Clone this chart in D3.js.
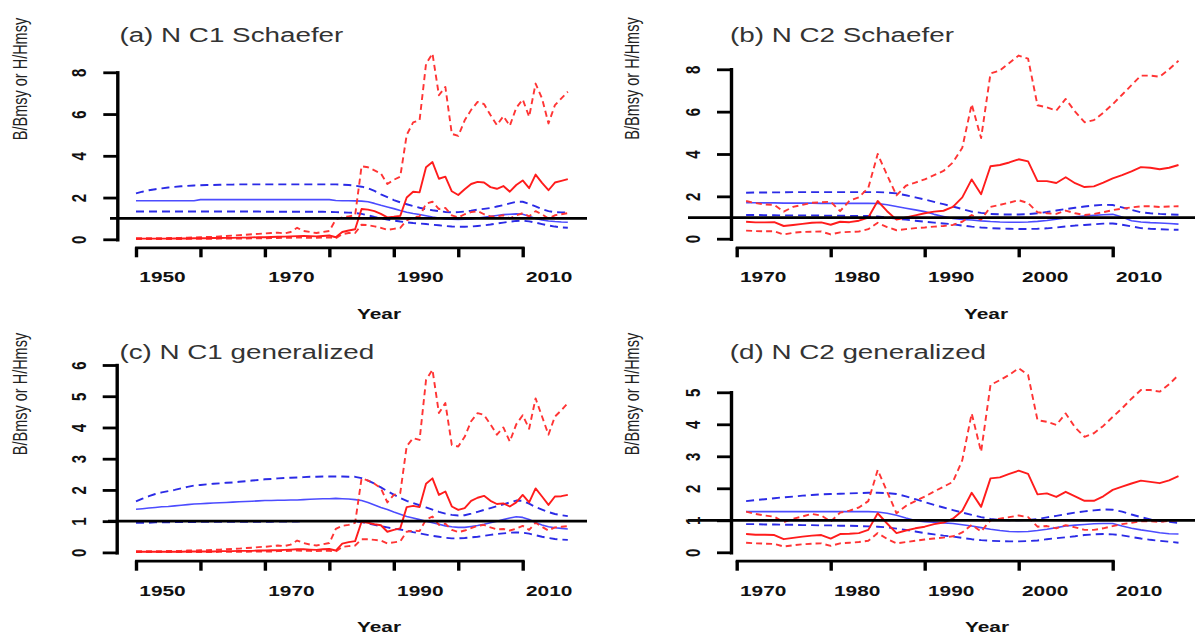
<!DOCTYPE html>
<html><head><meta charset="utf-8">
<script src="https://cdn.jsdelivr.net/npm/d3@7"></script>
<style>body{margin:0;background:#fff}svg{display:block}</style>
</head><body>
<svg id="chart" width="1195" height="636"></svg>
<script>
// ---------- categories / ticks ----------
const yearsC1 = d3.range(1950, 2018);   // 68 years
const yearsC2 = d3.range(1971, 2018);   // 47 years
const xTicksC1 = [1950, 1960, 1970, 1980, 1990, 2000, 2010];
const xLabelsC1 = [1950, 1970, 1990, 2010];
const xTicksC2 = [1970, 1980, 1990, 2000, 2010];
const xLabelsC2 = [1970, 1980, 1990, 2000, 2010];
const yTicksA = [0, 2, 4, 6, 8];
const yTicksB = [0, 2, 4, 6, 8];
const yTicksC = [0, 1, 2, 3, 4, 5, 6];
const yTicksD = [0, 1, 2, 3, 4, 5];
const titles = ["(a) N C1 Schaefer", "(b) N C2 Schaefer", "(c) N C1 generalized", "(d) N C2 generalized"];
const yAxisTitle = "B/Bmsy or H/Hmsy";
const xAxisTitle = "Year";
const refValue = 1;

// ---------- panel (a) ----------
const redSolidA = [0.03,0.03,0.03,0.03,0.03,0.03,0.04,0.04,0.04,0.05,
  0.05,0.05,0.06,0.06,0.07,0.07,0.08,0.08,0.09,0.10,
  0.10,0.11,0.12,0.13,0.14,0.15,0.16,0.15,0.14,0.16,
  0.18,0.10,0.35,0.42,
  0.48,1.45,1.42,1.35,1.22,1.05,1.08,1.12,2.0,2.28,2.25,3.45,3.7,2.9,3.0,2.3,2.12,2.4,2.65,2.75,
  2.72,2.5,2.42,2.55,2.28,2.6,2.82,2.45,3.1,2.7,2.35,2.72,2.8,2.88];
const redUpA = [0.05,0.05,0.05,0.05,0.05,0.06,0.06,0.07,0.08,0.09,
  0.10,0.11,0.12,0.14,0.16,0.18,0.20,0.22,0.24,0.26,
  0.28,0.30,0.32,0.28,0.35,0.55,0.40,0.35,0.30,0.35,
  0.40,0.95,1.05,1.10,1.15,
  3.5,3.45,3.3,3.15,2.65,2.85,3.0,5.0,5.6,5.7,8.4,8.9,6.9,7.3,5.05,4.95,5.7,6.2,6.58,6.48,
  5.95,5.47,5.9,5.44,6.3,6.7,5.87,7.46,6.75,5.55,6.43,6.75,7.07];
const redLoA = [0.01,0.01,0.01,0.01,0.01,0.01,0.01,0.01,0.02,0.02,
  0.02,0.02,0.02,0.03,0.03,0.03,0.04,0.04,0.05,0.05,
  0.05,0.06,0.06,0.07,0.07,0.08,0.08,0.07,0.07,0.08,
  0.09,0.05,0.25,0.3,0.3,
  0.7,0.68,0.62,0.55,0.45,0.5,0.55,0.9,1.05,1.1,1.7,1.8,1.45,1.5,1.15,1.05,1.2,1.3,1.35,1.2,
  1.1,1.1,1.15,1.0,1.15,1.25,1.1,1.35,1.2,1.0,1.15,1.2,1.25];
const blueSolidA = [1.85,1.85,1.85,1.85,1.85,1.85,1.85,1.85,1.85,1.85,
  1.9,1.9,1.9,1.9,1.9,1.9,1.9,1.9,1.9,1.9,
  1.9,1.9,1.9,1.9,1.9,1.9,1.9,1.9,1.9,1.9,
  1.9,1.86,1.85,1.85,1.84,1.83,
  1.8,1.72,1.63,1.55,1.47,1.38,1.3,1.24,1.19,1.13,1.07,1.02,0.98,0.96,0.95,0.96,
  0.98,1.02,1.06,1.1,1.14,1.18,1.2,1.22,1.2,1.1,1.0,0.93,0.88,0.85,0.83,0.82];
const blueUpA = [2.2,2.28,2.35,2.4,2.44,2.48,2.51,2.54,2.56,2.58,
  2.59,2.6,2.6,2.61,2.62,2.62,2.63,2.63,2.63,2.63,
  2.63,2.63,2.63,2.63,2.63,2.63,2.63,2.63,2.63,2.63,
  2.63,2.63,2.62,2.6,2.57,
  2.52,2.45,2.32,2.15,2.02,1.88,1.77,1.68,1.59,1.51,1.44,1.39,1.35,1.31,1.29,1.3,1.33,1.37,1.42,1.46,
  1.5,1.57,1.64,1.72,1.8,1.8,1.7,1.58,1.45,1.35,1.3,1.29,1.29];
const blueLoA = [1.33,1.33,1.33,1.33,1.33,1.33,1.33,1.33,1.33,1.33,
  1.33,1.33,1.33,1.33,1.33,1.33,1.33,1.33,1.33,1.33,
  1.32,1.32,1.32,1.32,1.32,1.32,1.32,1.32,1.32,1.32,
  1.31,
  1.3,1.29,1.28,1.26,1.22,1.15,1.07,1.0,0.95,0.9,0.85,0.81,0.78,0.76,0.73,0.7,0.67,0.64,0.61,0.6,
  0.6,0.61,0.64,0.67,0.71,0.76,0.8,0.84,0.88,0.89,0.86,0.8,0.73,0.66,0.61,0.57,0.55];

// ---------- panel (b) ----------
const redSolidB = [0.8,0.77,0.77,0.78,0.6,0.65,0.7,0.75,0.77,0.66,
  0.8,0.78,0.85,1.0,1.78,1.3,0.9,1.0,1.1,1.2,
  1.28,1.32,1.5,1.95,2.8,2.1,3.42,3.48,3.6,3.75,
  3.65,2.72,2.72,2.63,2.9,2.62,2.44,2.47,2.65,2.85,
  3.0,3.18,3.38,3.35,3.28,3.35,3.48];
const redUpB = [1.78,1.68,1.62,1.6,1.28,1.5,1.6,1.7,1.72,1.75,
  1.3,1.8,1.95,2.4,4.0,3.0,2.05,2.5,2.65,2.8,
  3.0,3.2,3.6,4.3,6.35,4.75,7.8,7.95,8.3,8.65,
  8.5,6.3,6.2,6.05,6.6,6.0,5.5,5.6,5.95,6.35,
  6.8,7.25,7.7,7.7,7.65,8.0,8.4];
const redLoB = [0.38,0.36,0.35,0.35,0.2,0.28,0.32,0.33,0.34,0.2,
  0.3,0.32,0.34,0.45,0.75,0.55,0.4,0.45,0.5,0.53,
  0.57,0.6,0.65,0.8,1.12,0.9,1.5,1.6,1.7,1.82,
  1.68,1.25,1.2,1.17,1.33,1.2,1.12,1.17,1.25,1.35,
  1.42,1.48,1.53,1.53,1.5,1.52,1.53];
const blueSolidB = [1.7,1.7,1.69,1.69,1.68,1.68,1.68,1.68,1.67,1.67,
  1.67,1.67,1.67,1.67,1.66,1.6,1.52,1.44,1.36,1.28,
  1.15,1.05,0.96,0.91,0.88,0.84,0.81,0.79,0.78,0.78,
  0.79,0.82,0.86,0.92,0.98,1.03,1.07,1.1,1.13,1.15,
  1.02,0.85,0.79,0.76,0.74,0.72,0.69];
const blueUpB = [2.17,2.18,2.18,2.19,2.19,2.2,2.2,2.2,2.2,2.2,
  2.2,2.2,2.2,2.2,2.2,2.18,2.14,2.05,1.95,1.85,
  1.74,1.63,1.52,1.4,1.28,1.22,1.17,1.15,1.14,1.14,
  1.16,1.2,1.26,1.33,1.4,1.46,1.52,1.57,1.6,1.59,
  1.48,1.36,1.25,1.2,1.17,1.15,1.13];
const blueLoB = [1.12,1.12,1.11,1.11,1.1,1.1,1.1,1.1,1.09,1.09,
  1.09,1.08,1.08,1.07,1.05,1.0,0.95,0.9,0.85,0.8,
  0.76,0.72,0.68,0.62,0.57,0.53,0.5,0.48,0.47,0.46,
  0.46,0.47,0.49,0.53,0.58,0.62,0.65,0.68,0.71,0.72,
  0.66,0.58,0.5,0.47,0.45,0.43,0.42];

// ---------- panel (c) ----------
const redSolidC = [0.02,0.02,0.02,0.02,0.02,0.02,0.02,0.02,0.03,0.03,
  0.03,0.03,0.03,0.04,0.04,0.04,0.05,0.05,0.05,0.06,
  0.06,0.07,0.07,0.08,0.09,0.1,0.1,0.09,0.08,0.1,
  0.11,0.06,0.28,0.33,0.36,
  0.98,0.95,0.9,0.87,0.66,0.72,0.77,1.45,1.49,1.45,2.2,2.37,1.84,1.95,1.47,1.36,1.42,1.65,1.75,1.81,
  1.65,1.55,1.57,1.47,1.6,1.84,1.6,2.05,1.79,1.52,1.79,1.8,1.84];
const redUpC = [0.04,0.04,0.04,0.04,0.04,0.05,0.05,0.05,0.06,0.06,
  0.07,0.07,0.08,0.09,0.1,0.11,0.12,0.14,0.15,0.17,
  0.18,0.2,0.22,0.2,0.25,0.38,0.3,0.25,0.22,0.26,
  0.3,0.75,0.85,0.88,0.95,
  2.37,2.3,2.2,2.05,1.6,1.84,1.9,3.4,3.66,3.6,5.52,5.85,4.46,4.78,3.44,3.39,3.7,4.2,4.46,4.4,
  4.1,3.77,4.0,3.55,4.1,4.39,3.96,4.93,4.35,3.77,4.35,4.55,4.78];
const redLoC = [0.01,0.01,0.01,0.01,0.01,0.01,0.01,0.01,0.01,0.01,
  0.01,0.01,0.01,0.02,0.02,0.02,0.02,0.02,0.03,0.03,
  0.03,0.03,0.04,0.04,0.05,0.06,0.05,0.05,0.04,0.05,
  0.05,0.03,0.18,0.2,0.22,
  0.42,0.42,0.4,0.38,0.29,0.32,0.35,0.66,0.7,0.68,1.05,1.15,0.88,0.92,0.72,0.65,0.7,0.78,0.85,0.88,
  0.8,0.74,0.75,0.7,0.76,0.85,0.72,0.95,0.82,0.7,0.8,0.82,0.84];
const blueSolidC = [1.38,1.4,1.42,1.44,1.46,1.47,1.49,1.51,1.53,1.55,
  1.56,1.57,1.58,1.59,1.6,1.61,1.62,1.63,1.64,1.65,
  1.66,1.66,1.67,1.67,1.68,1.68,1.69,1.7,1.71,1.72,
  1.72,1.73,1.72,1.71,1.69,1.66,1.6,1.52,1.44,1.37,
  1.29,1.22,1.15,1.1,1.05,1.0,0.95,0.9,0.85,0.82,
  0.8,0.8,0.83,0.86,0.9,0.95,1.0,1.05,1.1,1.14,
  1.12,1.05,0.96,0.88,0.82,0.79,0.77,0.75];
const blueUpC = [1.63,1.72,1.8,1.87,1.92,1.96,2.0,2.05,2.1,2.14,
  2.16,2.18,2.2,2.21,2.23,2.24,2.26,2.28,2.3,2.32,
  2.34,2.35,2.37,2.38,2.39,2.4,2.41,2.42,2.42,2.43,
  2.43,2.43,2.43,2.42,2.42,2.38,2.3,2.2,2.08,1.96,
  1.85,1.74,1.65,1.58,1.51,1.44,1.37,1.3,1.24,1.2,
  1.18,1.19,1.24,1.3,1.36,1.42,1.48,1.54,1.6,1.66,
  1.65,1.56,1.45,1.37,1.29,1.23,1.19,1.16];
const blueLoC = [0.95,0.95,0.95,0.96,0.96,0.96,0.97,0.97,0.97,0.97,
  0.98,0.98,0.98,0.98,0.98,0.98,0.98,0.98,0.98,0.98,
  0.98,0.98,0.99,0.99,0.99,0.99,1.0,1.0,1.0,1.0,
  1.0,1.0,1.0,1.0,0.99,0.97,0.93,0.88,0.84,0.8,
  0.76,0.73,0.7,0.65,0.61,0.57,0.53,0.5,0.47,0.45,
  0.45,0.46,0.48,0.5,0.53,0.56,0.59,0.61,0.63,0.64,
  0.63,0.6,0.55,0.5,0.46,0.43,0.41,0.4];

// ---------- panel (d) ----------
const redSolidD = [0.57,0.55,0.55,0.54,0.41,0.45,0.49,0.52,0.54,0.43,
  0.57,0.58,0.6,0.7,1.22,0.9,0.6,0.68,0.75,0.8,
  0.88,0.93,1.05,1.3,1.86,1.42,2.31,2.34,2.45,2.55,
  2.45,1.81,1.84,1.73,1.89,1.75,1.61,1.61,1.75,1.95,
  2.05,2.15,2.24,2.2,2.16,2.25,2.38];
const redUpD = [1.27,1.2,1.15,1.11,0.94,1.05,1.12,1.2,1.15,0.96,
  1.24,1.3,1.4,1.6,2.57,1.9,1.22,1.45,1.6,1.74,
  1.9,2.05,2.2,2.88,4.34,3.14,5.23,5.38,5.55,5.75,
  5.54,4.13,4.08,3.98,4.34,3.9,3.61,3.72,3.95,4.23,
  4.5,4.8,5.07,5.07,5.02,5.25,5.54];
const redLoD = [0.3,0.28,0.27,0.26,0.18,0.22,0.25,0.27,0.28,0.2,
  0.28,0.3,0.32,0.36,0.6,0.42,0.28,0.32,0.36,0.4,
  0.43,0.46,0.5,0.62,0.86,0.65,1.0,1.05,1.1,1.15,
  1.1,0.8,0.82,0.75,0.85,0.78,0.7,0.7,0.75,0.82,
  0.88,0.92,0.97,0.97,0.95,0.98,1.0];
const blueSolidD = [1.27,1.27,1.27,1.27,1.27,1.27,1.27,1.27,1.27,1.27,
  1.27,1.27,1.27,1.27,1.26,1.22,1.16,1.07,0.99,0.96,
  0.94,0.92,0.9,0.86,0.82,0.77,0.72,0.68,0.65,0.64,
  0.65,0.68,0.72,0.77,0.82,0.85,0.87,0.89,0.9,0.9,
  0.82,0.75,0.7,0.66,0.61,0.58,0.57];
const blueUpD = [1.6,1.63,1.66,1.69,1.72,1.74,1.77,1.79,1.81,1.82,
  1.83,1.84,1.85,1.86,1.86,1.85,1.82,1.75,1.66,1.57,
  1.48,1.4,1.32,1.24,1.17,1.1,1.04,1.01,1.0,1.0,
  1.01,1.04,1.09,1.14,1.19,1.24,1.28,1.31,1.34,1.33,
  1.27,1.18,1.1,1.03,0.98,0.95,0.92];
const blueLoD = [0.88,0.88,0.87,0.87,0.86,0.86,0.85,0.85,0.84,0.84,
  0.83,0.83,0.82,0.81,0.8,0.78,0.74,0.7,0.65,0.6,
  0.56,0.52,0.49,0.45,0.41,0.38,0.36,0.35,0.34,0.34,
  0.35,0.37,0.41,0.44,0.47,0.5,0.54,0.56,0.57,0.56,
  0.53,0.48,0.43,0.39,0.36,0.33,0.3];

// ---------- layout (positions only) ----------
const SX = 1.39;            // horizontal stretch of the reference's lettering
const panels = [
  {title: titles[0], years: yearsC1, xTicks: xTicksC1, xLabels: xLabelsC1, yTicks: yTicksA,
   s: [blueUpA, blueLoA, blueSolidA, redUpA, redLoA, redSolidA],
   g: {xr: [136, 522.7], yr: [239.3, 72.3], axX: 117.3, axY: 247.3, ref: [110, 587],
       title: [119.4, 42], ylab: [26.5, 79], year: [379, 318.5]}},
  {title: titles[1], years: yearsC2, xTicks: xTicksC2, xLabels: xLabelsC2, yTicks: yTicksB,
   s: [blueUpB, blueLoB, blueSolidB, redUpB, redLoB, redSolidB],
   g: {xr: [736.7, 1112.7], yr: [238.7, 69.3], axX: 731, axY: 247.3, ref: [688, 1195],
       title: [730, 42], ylab: [639, 78.5], year: [986, 318.5]}},
  {title: titles[2], years: yearsC1, xTicks: xTicksC1, xLabels: xLabelsC1, yTicks: yTicksC,
   s: [blueUpC, blueLoC, blueSolidC, redUpC, redLoC, redSolidC],
   g: {xr: [136, 522.7], yr: [552.4, 365], axX: 116.7, axY: 560.7, ref: [108, 587],
       title: [119.4, 358.5], ylab: [26.5, 394], year: [379, 632]}},
  {title: titles[3], years: yearsC2, xTicks: xTicksC2, xLabels: xLabelsC2, yTicks: yTicksD,
   s: [blueUpD, blueLoD, blueSolidD, redUpD, redLoD, redSolidD],
   g: {xr: [736.7, 1112.7], yr: [552.3, 392.3], axX: 731, axY: 560.7, ref: [688, 1195],
       title: [729.7, 358.5], ylab: [639, 394], year: [987, 632]}}
];
const styles = [
  {stroke: "#2b2be6", width: 1.9, dash: "8,5"},
  {stroke: "#2b2be6", width: 1.9, dash: "8,5"},
  {stroke: "#4c4cff", width: 1.6, dash: null},
  {stroke: "#ff3434", width: 1.9, dash: "6,4"},
  {stroke: "#ff3434", width: 1.9, dash: "6,4"},
  {stroke: "#ff1c1c", width: 1.9, dash: null}
];
const FONT = "'Liberation Sans', Arial, Helvetica, sans-serif";

const svg = d3.select("#chart");
svg.append("rect").attr("width", 1195).attr("height", 636).attr("fill", "#fff");

panels.forEach(p => {
  const g = p.g;
  const x = d3.scaleLinear().domain([p.xTicks[0], p.xTicks[p.xTicks.length - 1]]).range(g.xr);
  const y = d3.scaleLinear().domain([p.yTicks[0], p.yTicks[p.yTicks.length - 1]]).range(g.yr);
  const root = svg.append("g");

  // series
  const line = d3.line().x((d, i) => x(p.years[i])).y(d => y(d));
  p.s.forEach((vals, k) => {
    const st = styles[k];
    root.append("path").datum(vals).attr("d", line)
      .attr("fill", "none").attr("stroke", st.stroke).attr("stroke-width", st.width)
      .attr("stroke-dasharray", st.dash).attr("stroke-linejoin", "round");
  });

  // reference line = 1
  root.append("line").attr("x1", g.ref[0]).attr("x2", g.ref[1])
    .attr("y1", y(refValue)).attr("y2", y(refValue))
    .attr("stroke", "#000").attr("stroke-width", 2.8);

  // y axis
  const ya = root.append("g").attr("transform", `translate(${g.axX},0)`)
    .call(d3.axisLeft(y).tickValues(p.yTicks).tickSize(14).tickSizeOuter(0).tickFormat(d3.format("d")));
  ya.select(".domain").attr("stroke", "#000").attr("stroke-width", 3.4).attr("stroke-linecap", "square");
  ya.selectAll(".tick line").attr("stroke", "#000").attr("stroke-width", 2.8);
  ya.selectAll(".tick text").attr("x", null).attr("dy", null)
    .attr("transform", `translate(-31,0) scale(${SX},1) rotate(-90)`)
    .attr("text-anchor", "middle").attr("fill", "#111")
    .style("font-family", FONT).style("font-size", "15px").style("font-weight", "bold");

  // x axis
  const xa = root.append("g").attr("transform", `translate(0,${g.axY})`)
    .call(d3.axisBottom(x).tickValues(p.xTicks).tickSize(10).tickSizeOuter(0)
      .tickFormat(d => p.xLabels.includes(d) ? String(d) : ""));
  xa.select(".domain").attr("stroke", "#000").attr("stroke-width", 2.8).attr("stroke-linecap", "square");
  xa.selectAll(".tick line").attr("stroke", "#000").attr("stroke-width", 3.4);
  xa.selectAll(".tick text").attr("y", null).attr("dy", null)
    .attr("transform", `translate(26,35) scale(${SX},1)`)
    .attr("text-anchor", "middle").attr("fill", "#111")
    .style("font-family", FONT).style("font-size", "15px").style("font-weight", "bold");

  // titles and axis titles
  root.append("text").text(p.title)
    .attr("transform", `translate(${g.title[0]},${g.title[1]}) scale(${SX},1)`)
    .attr("fill", "#333").style("font-family", FONT).style("font-size", "20px");
  root.append("text").text(yAxisTitle)
    .attr("transform", `translate(${g.ylab[0]},${g.ylab[1]}) scale(${SX},1) rotate(-90)`)
    .attr("text-anchor", "middle").attr("fill", "#222")
    .style("font-family", FONT).style("font-size", "14.5px");
  root.append("text").text(xAxisTitle)
    .attr("transform", `translate(${g.year[0]},${g.year[1]}) scale(${SX},1)`)
    .attr("text-anchor", "middle").attr("fill", "#111")
    .style("font-family", FONT).style("font-size", "15px").style("font-weight", "bold");
});
</script>
</body></html>
